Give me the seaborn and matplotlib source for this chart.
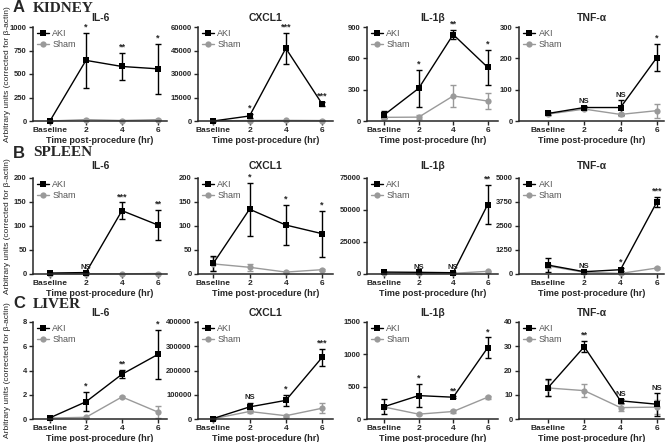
import numpy as np
import pandas as pd
import seaborn as sns
import matplotlib.pyplot as plt

cytokines = ['IL-6', 'CXCL1', 'IL-1β', 'TNF-α']
times = ['Baseline', '2', '4', '6']
organs = ['KIDNEY', 'SPLEEN', 'LIVER']
letters = ['A', 'B', 'C']

# kidney (rows = cytokines, cols = time points)
kidney_aki = [[0, 645, 580, 555], [0, 3200, 46400, 10900], [59, 313, 828, 514], [24, 43, 43, 202]]
kidney_aki_sem = [[4, 290, 145, 265], [300, 1300, 10000, 1500], [33, 175, 45, 165], [4, 4, 23, 44]]
kidney_sham = [[0, 15, 5, 15], [100, 300, 400, 300], [35, 37, 240, 191], [22, 38, 21, 33]]
kidney_sham_sem = [[2, 8, 4, 6], [80, 150, 200, 150], [15, 20, 108, 80], [3, 4, 5, 22]]
kidney_marks = [['', '*', '**', '*'], ['', '*', '***', '***'], ['', '*', '**', '*'], ['', 'NS', 'NS', '*']]
kidney_yticks = [[0, 250, 500, 750, 1000], [0, 15000, 30000, 45000, 60000], [0, 300, 600, 900], [0, 100, 200, 300]]

# spleen
spleen_aki = [[2, 3, 132, 102], [22, 135, 102, 84], [1500, 1300, 1000, 54200], [465, 120, 224, 3740]]
spleen_aki_sem = [[1, 1, 17, 32], [15, 55, 42, 48], [300, 300, 300, 15400], [350, 40, 90, 270]]
spleen_sham = [[0.5, 0.5, 0.3, 1], [21, 14, 4, 9], [800, 500, 500, 2100], [420, 90, 30, 310]]
spleen_sham_sem = [[0.3, 0.3, 0.2, 0.5], [14, 7, 2, 2], [200, 150, 150, 300], [100, 30, 10, 40]]
spleen_marks = [['', 'NS', '***', '**'], ['', '*', '*', '*'], ['', 'NS', 'NS', '**'], ['', 'NS', '*', '***']]
spleen_yticks = [[0, 50, 100, 150, 200], [0, 50, 100, 150, 200], [0, 25000, 50000, 75000], [0, 1250, 2500, 3750, 5000]]

# liver
liver_aki = [[0.1, 1.42, 3.69, 5.33], [2000, 49800, 76800, 254000], [191, 362, 337, 1102], [12.9, 29.8, 7.5, 6.1]]
liver_aki_sem = [[0.05, 0.8, 0.34, 2.0], [1000, 18000, 22000, 35000], [113, 176, 15, 160], [3.6, 2.3, 0.8, 4.7]]
liver_sham = [[0.08, 0.14, 1.82, 0.57], [1000, 31000, 13500, 44400], [185, 75, 116, 337], [12.8, 11.7, 4.7, 4.9]]
liver_sham_sem = [[0.04, 0.06, 0.07, 0.5], [500, 5000, 5000, 21000], [20, 15, 20, 20], [3.3, 2.7, 1.5, 3.0]]
liver_marks = [['', '*', '**', '*'], ['', 'NS', '*', '***'], ['', '*', '**', '*'], ['', '**', 'NS', 'NS']]
liver_yticks = [[0, 2, 4, 6, 8], [0, 100000, 200000, 300000, 400000], [0, 500, 1000, 1500], [0, 10, 20, 30, 40]]

sns.set_style('ticks')
plt.rcParams['font.family'] = ['Liberation Sans', 'DejaVu Sans']

W, H = 672, 442
fig = plt.figure(figsize=(W / 100, H / 100), dpi=100)

# pixel layout of the grid
row_top = [27, 178, 322]
row_bot = [121, 274, 419]
col_left = [33, 198, 367, 519]
col_width = [134, 135, 131, 145]
col_xlim = [(-0.47, 3.25), (-0.42, 3.3), (-0.5, 3.3), (-0.8, 3.2)]
row_text_y = [8, 153, 304]
title_pad = [4, 6.5, 4]

organ_data = [
    (kidney_aki, kidney_aki_sem, kidney_sham, kidney_sham_sem, kidney_marks, kidney_yticks),
    (spleen_aki, spleen_aki_sem, spleen_sham, spleen_sham_sem, spleen_marks, spleen_yticks),
    (liver_aki, liver_aki_sem, liver_sham, liver_sham_sem, liver_marks, liver_yticks),
]

x = np.arange(len(times))
for r, (aki, aki_sem, sham, sham_sem, marks, yticks) in enumerate(organ_data):
    for c in range(4):
        ax = fig.add_axes([col_left[c] / W, 1 - row_bot[r] / H,
                           col_width[c] / W, (row_bot[r] - row_top[r]) / H])
        df = pd.DataFrame({'x': np.tile(x, 2),
                           'val': list(sham[c]) + list(aki[c]),
                           'group': ['Sham'] * 4 + ['AKI'] * 4})
        ax.errorbar(x, sham[c], yerr=sham_sem[c], fmt='none', ecolor='#9a9a9a',
                    elinewidth=1, capsize=2.2, capthick=1)
        ax.errorbar(x, aki[c], yerr=aki_sem[c], fmt='none', ecolor='black',
                    elinewidth=1, capsize=2.2, capthick=1)
        sns.lineplot(data=df, x='x', y='val', hue='group', style='group',
                     hue_order=['Sham', 'AKI'],
                     markers={'AKI': 's', 'Sham': 'o'}, dashes=False,
                     palette={'AKI': 'black', 'Sham': '#9a9a9a'},
                     markersize=4.5, markeredgewidth=0, linewidth=1, ax=ax)
        for art in ax.lines + ax.collections:
            art.set_clip_on(False)

        ymax = yticks[c][-1]
        ax.set_ylim(0, ymax)
        ax.set_xlim(*col_xlim[c])
        ax.set_yticks(yticks[c])
        ax.set_yticklabels([str(v) for v in yticks[c]], fontsize=5.5, fontweight='bold')
        ax.set_xticks(x)
        ax.set_xticklabels(times, fontsize=6, fontweight='bold')
        ax.tick_params(length=3, width=1, pad=1.5)
        sns.despine(ax=ax)
        for s in ['left', 'bottom']:
            ax.spines[s].set_linewidth(1.1)

        ax.set_xlabel('Time post-procedure (hr)', fontsize=6.5, fontweight='bold', labelpad=1.5)
        ax.set_ylabel('')
        ax.set_title(cytokines[c], fontsize=7.5, fontweight='bold', pad=title_pad[r])

        # significance marks above AKI error bars
        for i, m in enumerate(marks[c]):
            if m:
                ytop = aki[c][i] + aki_sem[c][i] + 0.012 * ymax
                ax.text(x[i], ytop, m, ha='center', va='bottom',
                        fontsize=5.5 if m == 'NS' else 6.5, fontweight='bold')

        handles, labels = ax.get_legend_handles_labels()
        ax.legend(handles[::-1], labels[::-1], loc='upper left', bbox_to_anchor=(0.03, 0.98),
                  frameon=False, fontsize=6.5, labelcolor='#555555', handlelength=1.3,
                  handletextpad=0.4, labelspacing=0.2, borderpad=0, borderaxespad=0)

    fig.text(13 / W, 1 - row_text_y[r] / H, letters[r], fontsize=12, fontweight='bold',
             ha='left', va='center')
    fig.text(33 / W, 1 - row_text_y[r] / H, organs[r], fontsize=11, fontweight='bold',
             family='Liberation Serif', ha='left', va='center')
    fig.text(8 / W, 1 - (row_top[r] + row_bot[r]) / 2 / H,
             'Arbitrary units (corrected for β-actin)', fontsize=6, rotation=90,
             ha='center', va='center')

fig.savefig('out.png', dpi=100)
